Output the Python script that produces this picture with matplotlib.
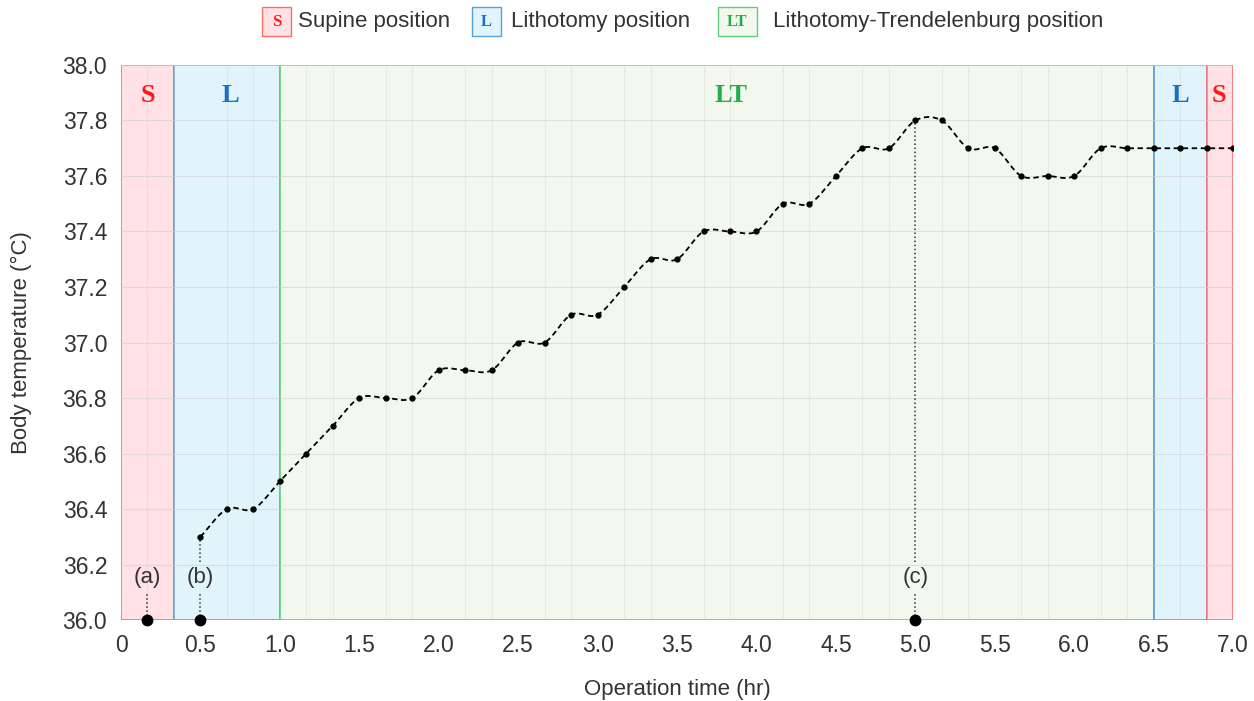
import numpy as np
import matplotlib.pyplot as plt
from matplotlib.patches import Rectangle

# measured body temperature every 10 min (time in minutes)
time_min = [30, 40, 50, 60, 70, 80, 90, 100, 110, 120, 130, 140, 150, 160,
            170, 180, 190, 200, 210, 220, 230, 240, 250, 260, 270, 280, 290,
            300, 310, 320, 330, 340, 350, 360, 370, 380, 390, 400, 410, 420]
temp = [36.3, 36.4, 36.4, 36.5, 36.6, 36.7, 36.8, 36.8, 36.8, 36.9, 36.9,
        36.9, 37.0, 37.0, 37.1, 37.1, 37.2, 37.3, 37.3, 37.4, 37.4, 37.4,
        37.5, 37.5, 37.6, 37.7, 37.7, 37.8, 37.8, 37.7, 37.7, 37.6, 37.6,
        37.6, 37.7, 37.7, 37.7, 37.7, 37.7, 37.7]

# positions during the operation (start, end in minutes)
pos_codes = ['S', 'L', 'LT', 'L', 'S']
pos_start = [0, 20, 60, 390, 410]
pos_end = [20, 60, 390, 410, 420]

# events (a), (b), (c)
event_names = ['(a)', '(b)', '(c)']
event_min = [10, 30, 300]

styles = {
    'S': dict(fill='#ffe1e6', edge='#ff6b6b', text='#ff1a1a', name='Supine position'),
    'L': dict(fill='#e1f4fc', edge='#5aa0d8', text='#1a6fc4', name='Lithotomy position'),
    'LT': dict(fill='#f2f8ee', edge='#5fcb85', text='#20b04a', name='Lithotomy-Trendelenburg position'),
}
label_x = [0.167, 0.686, 3.84, 6.667, 6.91]

t = np.array(time_min) / 60.0
y = np.array(temp)


# Catmull-Rom smoothing between the points
def smooth(x, y, n=20):
    m = np.zeros(len(y))
    m[1:-1] = (y[2:] - y[:-2]) / 2
    m[0] = y[1] - y[0]
    m[-1] = y[-1] - y[-2]
    xs, ys = [], []
    for i in range(len(x) - 1):
        s = np.linspace(0, 1, n, endpoint=False)
        h00 = 2*s**3 - 3*s**2 + 1
        h10 = s**3 - 2*s**2 + s
        h01 = -2*s**3 + 3*s**2
        h11 = s**3 - s**2
        xs.append(x[i] + s*(x[i+1] - x[i]))
        ys.append(h00*y[i] + h10*m[i] + h01*y[i+1] + h11*m[i+1])
    xs.append([x[-1]])
    ys.append([y[-1]])
    return np.concatenate(xs), np.concatenate(ys)


plt.rcParams['font.family'] = ['Liberation Sans', 'DejaVu Sans']
fig = plt.figure(figsize=(12.54, 7.01), dpi=100)
ax = fig.add_axes([0.0965, 0.1155, 0.8868, 0.7918])

ymin, ymax = 36.0, 38.0
for code, a, b, lx in zip(pos_codes, pos_start, pos_end, label_x):
    st = styles[code]
    ax.add_patch(Rectangle((a/60, ymin), (b - a)/60, ymax - ymin,
                           facecolor=st['fill'], edgecolor=st['edge'],
                           linewidth=1.2, zorder=1))
    ax.text(lx, 37.89, code, ha='center', va='center', fontsize=19,
            fontweight='bold', family='Liberation Serif', color=st['text'], zorder=5)

# grid every 10 min / 0.2 degC
ax.set_xticks(np.array([0, 10, 20] + time_min) / 60, minor=True)
ax.grid(which='minor', axis='x', color='#d0d0d0', linewidth=0.8, alpha=0.35, zorder=1.5)
ax.grid(which='major', axis='y', color='#d0d0d0', linewidth=0.8, alpha=0.6, zorder=1.5)

xs, ys = smooth(t, y)
ax.plot(xs, ys, color='black', linestyle=(0, (3, 2)), linewidth=1.3, zorder=4)
ax.plot(t, y, 'o', color='black', markersize=3.5, zorder=4)

# event markers
for name, em in zip(event_names, event_min):
    ex = em / 60
    ax.plot(ex, ymin, 'o', color='black', markersize=7.5, zorder=6, clip_on=False)
    ax.text(ex, 36.155, name, ha='center', va='center', fontsize=16, color='#333333', zorder=5)
    ax.plot([ex, ex], [ymin, 36.1], color='#333333', linestyle=':', linewidth=1.1, zorder=3)
    if em in time_min:
        top = temp[time_min.index(em)]
        ax.plot([ex, ex], [36.21, top], color='#333333', linestyle=':', linewidth=1.1, zorder=3)

ax.set_xlim(0, 7)
ax.set_ylim(ymin, ymax)
xt = [0, 0.5, 1.0, 1.5, 2.0, 2.5, 3.0, 3.5, 4.0, 4.5, 5.0, 5.5, 6.0, 6.5, 7.0]
ax.set_xticks(xt)
ax.set_xticklabels(['0'] + ['%.1f' % v for v in xt[1:]])
yt = [36.0, 36.2, 36.4, 36.6, 36.8, 37.0, 37.2, 37.4, 37.6, 37.8, 38.0]
ax.set_yticks(yt)
ax.set_yticklabels(['%.1f' % v for v in yt])
ax.tick_params(which='both', length=0, labelsize=16.5, labelcolor='#333333', pad=10)
for s in ax.spines.values():
    s.set_visible(False)
ax.set_xlabel('Operation time (hr)', fontsize=16, color='#333333', labelpad=16)
ax.set_ylabel('Body temperature (°C)', fontsize=16, color='#333333', labelpad=22)

# legend drawn in figure pixels
W, H = 1254, 701
leg = [('S', 262, 29, 298), ('L', 472, 29, 511), ('LT', 718, 39, 773)]
for code, bx, bw, tx in leg:
    st = styles[code]
    fig.add_artist(Rectangle((bx / W, 1 - 36 / H), bw / W, 29 / H,
                             transform=fig.transFigure, facecolor=st['fill'],
                             edgecolor=st['edge'], linewidth=1))
    fig.text((bx + bw / 2) / W, 1 - 22 / H, code, ha='center', va='center',
             fontsize=12, fontweight='bold', family='Liberation Serif', color=st['text'])
    fig.text(tx / W, 1 - 21 / H, st['name'], ha='left', va='center',
             fontsize=16, color='#333333')

fig.savefig('out.png', dpi=100)
